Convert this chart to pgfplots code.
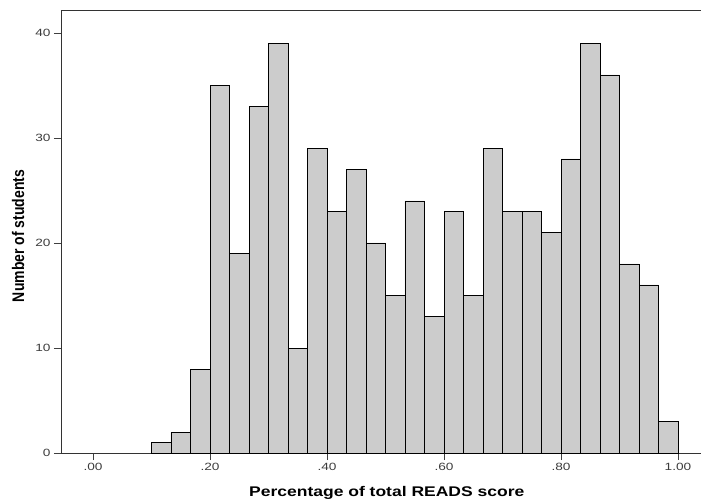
\documentclass[border=0pt]{standalone}
\usepackage{fontspec}
\setmainfont{Liberation Sans}
\usepackage{graphicx}
\usepackage{pgfplots}
\pgfplotsset{compat=1.18}
\definecolor{barfill}{RGB}{204,204,204}
\definecolor{ticktext}{RGB}{60,60,60}
\begin{document}
\begin{tikzpicture}[x=1pt,y=1pt]
\begin{axis}[
  at={(0,0)}, anchor=south west,
  scale only axis, width=640pt, height=443pt,
  xmin=-0.0547, xmax=1.0393, ymin=0, ymax=42.19,
  axis x line=box, axis y line*=left,
  axis line style={-, line width=0.9pt, color=black!80},
  xtick pos=bottom, ytick pos=left,
  tick align=outside,
  major tick length=7pt,
  tick style={line width=0.8pt, color=black!75},
  xtick={0,0.2,0.4,0.6,0.8,1.0},
  ytick={0,10,20,30,40},
  /pgf/number format/assume math mode=true,
  xticklabel style={font=\fontsize{10.5}{12}\selectfont, text=ticktext},
  yticklabel style={font=\fontsize{10.5}{12}\selectfont, text=ticktext},
  xticklabels={\scalebox{1.3}[1]{.00},\scalebox{1.3}[1]{.20},\scalebox{1.3}[1]{.40},\scalebox{1.3}[1]{.60},\scalebox{1.3}[1]{.80},\scalebox{1.3}[1]{1.00}},
  yticklabel={\scalebox{1.3}[1]{\pgfmathprintnumber{\tick}}},
  xlabel={\bfseries\scalebox{1.25}[1]{Percentage of total READS score}},
  xlabel style={font=\fontsize{14}{16}\selectfont, at={(axis description cs:0.509,0)}, anchor=base, yshift=-43pt},
  ylabel={\bfseries\scalebox{1}[1.2]{Number of students}},
  ylabel style={font=\fontsize{14}{16}\selectfont, at={(axis description cs:-0.0578,0.49)}, anchor=base},
]
\addplot[ybar interval, fill=barfill, draw=black, line width=0.8pt] coordinates {
(0.1000,1) (0.1333,2) (0.1667,8) (0.2000,35) (0.2333,19) (0.2667,33)
(0.3000,39) (0.3333,10) (0.3667,29) (0.4000,23) (0.4333,27) (0.4667,20)
(0.5000,15) (0.5333,24) (0.5667,13) (0.6000,23) (0.6333,15) (0.6667,29)
(0.7000,23) (0.7333,23) (0.7667,21) (0.8000,28) (0.8333,39) (0.8667,36)
(0.9000,18) (0.9333,16) (0.9667,3) (1.0000,3)
};
\end{axis}
\pgfresetboundingbox
\useasboundingbox (-61,-46) rectangle (640,453);
\end{tikzpicture}
\end{document}
